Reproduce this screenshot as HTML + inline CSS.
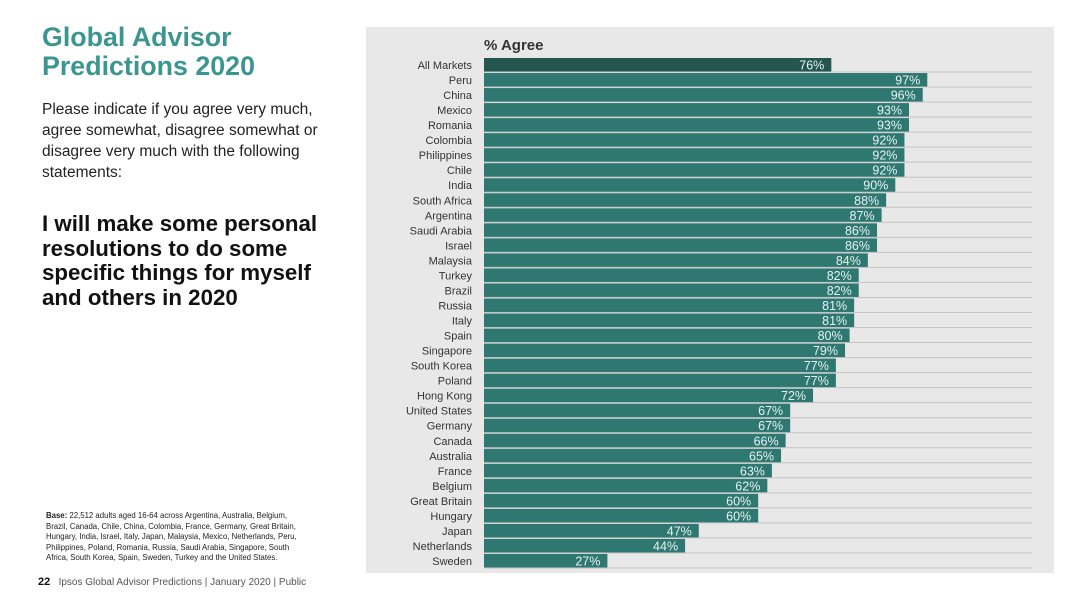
<!DOCTYPE html>
<html><head><meta charset="utf-8"><style>
body{margin:0;width:1080px;height:607px;background:#fff;font-family:"Liberation Sans",sans-serif;position:relative;overflow:hidden}
.t{position:absolute;left:42px;top:23px;font-size:26.8px;font-weight:bold;color:#3c9690;line-height:29px}
.b{position:absolute;left:42px;top:99px;font-size:15.5px;color:#222;line-height:21px}
.q{position:absolute;left:42px;top:212px;font-size:22.3px;font-weight:bold;color:#111;line-height:24.5px}
.f{position:absolute;left:46px;top:511px;font-size:7.8px;color:#222;line-height:10.5px}
.p{position:absolute;left:38px;top:576px;font-size:10px;color:#555}
</style></head><body>
<div class="t">Global Advisor<br>Predictions 2020</div>
<div class="b">Please indicate if you agree very much,<br>agree somewhat, disagree somewhat or<br>disagree very much with the following<br>statements:</div>
<div class="q">I will make some personal<br>resolutions to do some<br>specific things for myself<br>and others in 2020</div>
<div class="f"><b>Base:</b> 22,512 adults aged 16-64 across Argentina, Australia, Belgium,<br>Brazil, Canada, Chile, China, Colombia, France, Germany, Great Britain,<br>Hungary, India, Israel, Italy, Japan, Malaysia, Mexico, Netherlands, Peru,<br>Philippines, Poland, Romania, Russia, Saudi Arabia, Singapore, South<br>Africa, South Korea, Spain, Sweden, Turkey and the United States.</div>
<div class="p"><b style="color:#111;font-size:11px">22</b> &nbsp; Ipsos Global Advisor Predictions | January 2020 | Public</div>
<svg id="c" width="1080" height="607" style="position:absolute;left:0;top:0">
<rect x="366" y="27" width="688" height="546" fill="#e8e8e8"/>
<text x="484" y="50" font-size="15" font-weight="bold" fill="#333" font-family="Liberation Sans">% Agree</text>
</svg>
<script>
const categories=["All Markets","Peru","China","Mexico","Romania","Colombia","Philippines","Chile","India","South Africa","Argentina","Saudi Arabia","Israel","Malaysia","Turkey","Brazil","Russia","Italy","Spain","Singapore","South Korea","Poland","Hong Kong","United States","Germany","Canada","Australia","France","Belgium","Great Britain","Hungary","Japan","Netherlands","Sweden"];
const values=[76,97,96,93,93,92,92,92,90,88,87,86,86,84,82,82,81,81,80,79,77,77,72,67,67,66,65,63,62,60,60,47,44,27];
const svg=document.getElementById('c');const NS='http://www.w3.org/2000/svg';
const x0=484,pxPer=4.57,y0=58,step=15.03,bh=13.5;
const xs=v=>x0+v*pxPer, ys=i=>y0+i*step;
categories.forEach((c,i)=>{
 const y=ys(i);
 const ln=document.createElementNS(NS,'line');
 ln.setAttribute('x1',x0);ln.setAttribute('x2',1032);ln.setAttribute('y1',y+bh+0.5);ln.setAttribute('y2',y+bh+0.5);
 ln.setAttribute('stroke','#c4c4c4');ln.setAttribute('stroke-width','1');
 
 
 svg.appendChild(ln);
 const r=document.createElementNS(NS,'rect');
 r.setAttribute('x',x0);r.setAttribute('y',y);r.setAttribute('width',xs(values[i])-x0);r.setAttribute('height',bh);
 r.setAttribute('fill',i===0?'#245650':'#2e7871');
 
 
 svg.appendChild(r);
 const l=document.createElementNS(NS,'text');
 l.setAttribute('x',472);l.setAttribute('y',y+11);l.setAttribute('text-anchor','end');l.setAttribute('font-size','11');l.setAttribute('fill','#333');l.setAttribute('font-family','Liberation Sans');
 l.textContent=c;
 
 
 svg.appendChild(l);
 const v=document.createElementNS(NS,'text');
 v.setAttribute('x',xs(values[i])-7);v.setAttribute('y',y+11.5);v.setAttribute('text-anchor','end');v.setAttribute('font-size','12.5');v.setAttribute('fill','#e6f2f0');v.setAttribute('font-family','Liberation Sans');
 v.textContent=values[i]+'%';
 
 
 svg.appendChild(v);
});
</script>
</body></html>
